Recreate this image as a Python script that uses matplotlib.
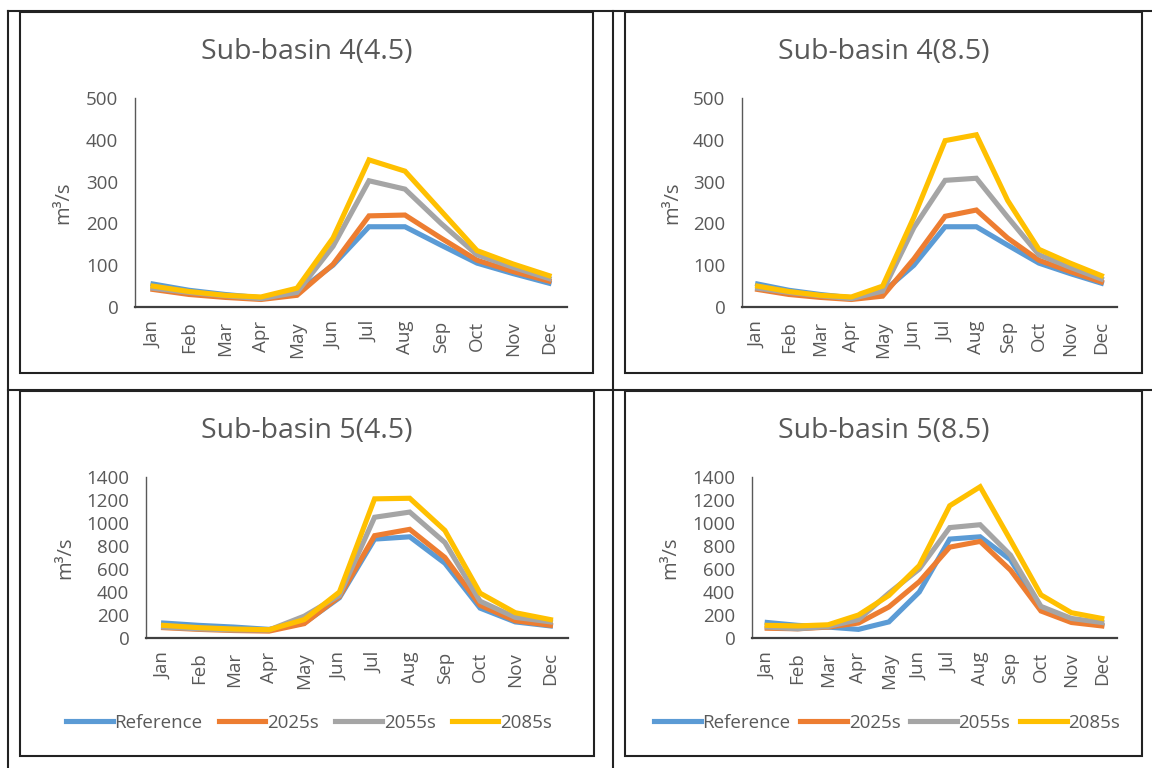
import matplotlib.pyplot as plt
from matplotlib.lines import Line2D
from matplotlib.patches import Rectangle

plt.rcParams['font.family'] = ['Open Sans', 'DejaVu Sans']

months = ['Jan', 'Feb', 'Mar', 'Apr', 'May', 'Jun', 'Jul', 'Aug', 'Sep', 'Oct', 'Nov', 'Dec']
series_names = ['Reference', '2025s', '2055s', '2085s']
colors = ['#5B9BD5', '#ED7D31', '#A5A5A5', '#FFC000']

# Sub-basin 4, RCP 4.5
sb4_45_ref = [55, 40, 30, 22, 35, 100, 192, 192, 148, 105, 80, 57]
sb4_45_2025 = [42, 30, 23, 18, 28, 102, 218, 220, 165, 112, 85, 62]
sb4_45_2055 = [45, 35, 27, 20, 35, 145, 302, 282, 200, 125, 95, 68]
sb4_45_2085 = [50, 37, 28, 24, 45, 165, 352, 325, 230, 135, 103, 75]

# Sub-basin 4, RCP 8.5
sb4_85_ref = [55, 40, 30, 22, 35, 100, 192, 192, 148, 105, 80, 57]
sb4_85_2025 = [42, 30, 23, 18, 26, 115, 217, 232, 165, 112, 85, 60]
sb4_85_2055 = [45, 35, 27, 20, 38, 190, 303, 308, 215, 125, 95, 67]
sb4_85_2085 = [50, 37, 28, 24, 50, 215, 398, 412, 255, 138, 105, 75]

# Sub-basin 5, RCP 4.5
sb5_45_ref = [130, 110, 95, 75, 130, 350, 860, 880, 650, 260, 140, 105]
sb5_45_2025 = [90, 75, 65, 60, 125, 360, 890, 945, 700, 285, 150, 110]
sb5_45_2055 = [95, 80, 70, 70, 190, 370, 1050, 1095, 830, 320, 180, 140]
sb5_45_2085 = [110, 90, 78, 72, 160, 400, 1210, 1215, 935, 390, 220, 160]

# Sub-basin 5, RCP 8.5
sb5_85_ref = [135, 110, 95, 75, 140, 400, 860, 880, 680, 260, 150, 110]
sb5_85_2025 = [85, 80, 95, 130, 270, 490, 790, 840, 590, 235, 135, 105]
sb5_85_2055 = [95, 80, 100, 160, 390, 600, 960, 985, 720, 275, 170, 135]
sb5_85_2085 = [110, 105, 115, 200, 370, 630, 1150, 1315, 850, 375, 220, 170]

W, H = 1152, 768
fig = plt.figure(figsize=(W / 100, H / 100), dpi=100)
txt = '#595959'


def fx(px):
    return px / W


def fy(py):
    return 1 - py / H


# table grid lines
for x in [8, 613]:
    fig.add_artist(Line2D([fx(x), fx(x)], [0, fy(11)], color='#222222', lw=1.5))
for y in [11, 390]:
    fig.add_artist(Line2D([fx(8), 1], [fy(y), fy(y)], color='#222222', lw=1.5))

panels = [
    dict(title='Sub-basin 4(4.5)', data=[sb4_45_ref, sb4_45_2025, sb4_45_2055, sb4_45_2085],
         box=(20, 12, 593, 373), ax=(135, 98, 567, 307), ylim=500, step=100, ylab=63,
         legend=None),
    dict(title='Sub-basin 4(8.5)', data=[sb4_85_ref, sb4_85_2025, sb4_85_2055, sb4_85_2085],
         box=(625, 12, 1142, 373), ax=(742, 98, 1117, 307), ylim=500, step=100, ylab=672,
         legend=None),
    dict(title='Sub-basin 5(4.5)', data=[sb5_45_ref, sb5_45_2025, sb5_45_2055, sb5_45_2085],
         box=(20, 391, 594, 756), ax=(146, 477, 568, 638), ylim=1400, step=200, ylab=65,
         legend=(309, 0.85)),
    dict(title='Sub-basin 5(8.5)', data=[sb5_85_ref, sb5_85_2025, sb5_85_2055, sb5_85_2085],
         box=(625, 391, 1142, 756), ax=(752, 477, 1117, 638), ylim=1400, step=200, ylab=670,
         legend=(887, 0.5)),
]

for p in panels:
    bx0, by0, bx1, by1 = p['box']
    fig.add_artist(Rectangle((fx(bx0), fy(by1)), fx(bx1 - bx0), (by1 - by0) / H,
                             fill=False, edgecolor='#222222', lw=1.5))
    ax0, ay0, ax1, ay1 = p['ax']
    ax = fig.add_axes([fx(ax0), fy(ay1), fx(ax1 - ax0), (ay1 - ay0) / H])
    lines = []
    for vals, name, c in zip(p['data'], series_names, colors):
        ln, = ax.plot(range(len(months)), vals, color=c, lw=3.7, label=name,
                      solid_joinstyle='miter', clip_on=False)
        lines.append(ln)
    ax.set_xlim(-0.5, len(months) - 0.5)
    ax.set_ylim(0, p['ylim'])
    ax.set_yticks(range(0, p['ylim'] + 1, p['step']))
    ax.set_xticks(range(len(months)))
    ax.set_xticklabels(months, rotation=90)
    ax.tick_params(length=0, labelsize=13.5, labelcolor=txt)
    ax.tick_params(axis='y', pad=12)
    ax.tick_params(axis='x', pad=10)
    for s in ['top', 'right']:
        ax.spines[s].set_visible(False)
    ax.spines['left'].set_color('#595959')
    ax.spines['bottom'].set_color('#404040')
    ax.spines['bottom'].set_linewidth(1.6)
    ax.spines['left'].set_linewidth(1.0)

    fig.text(fx((bx0 + bx1) / 2), fy(by0 + 40), p['title'], ha='center', va='center',
             fontsize=20.5, color=txt)
    fig.text(fx(p['ylab']), fy((ay0 + ay1) / 2), 'm³/s', rotation=90, ha='center', va='center',
             fontsize=14.5, color=txt)

    if p['legend'] is not None:
        cx, colsp = p['legend']
        fig.legend(lines, series_names, loc='center', ncol=4,
                   bbox_to_anchor=(fx(cx), fy(723)), frameon=False,
                   fontsize=13.5, labelcolor=txt, handlelength=2.5, handletextpad=0.1,
                   columnspacing=colsp)

fig.savefig('out.png', dpi=100, facecolor='white')
